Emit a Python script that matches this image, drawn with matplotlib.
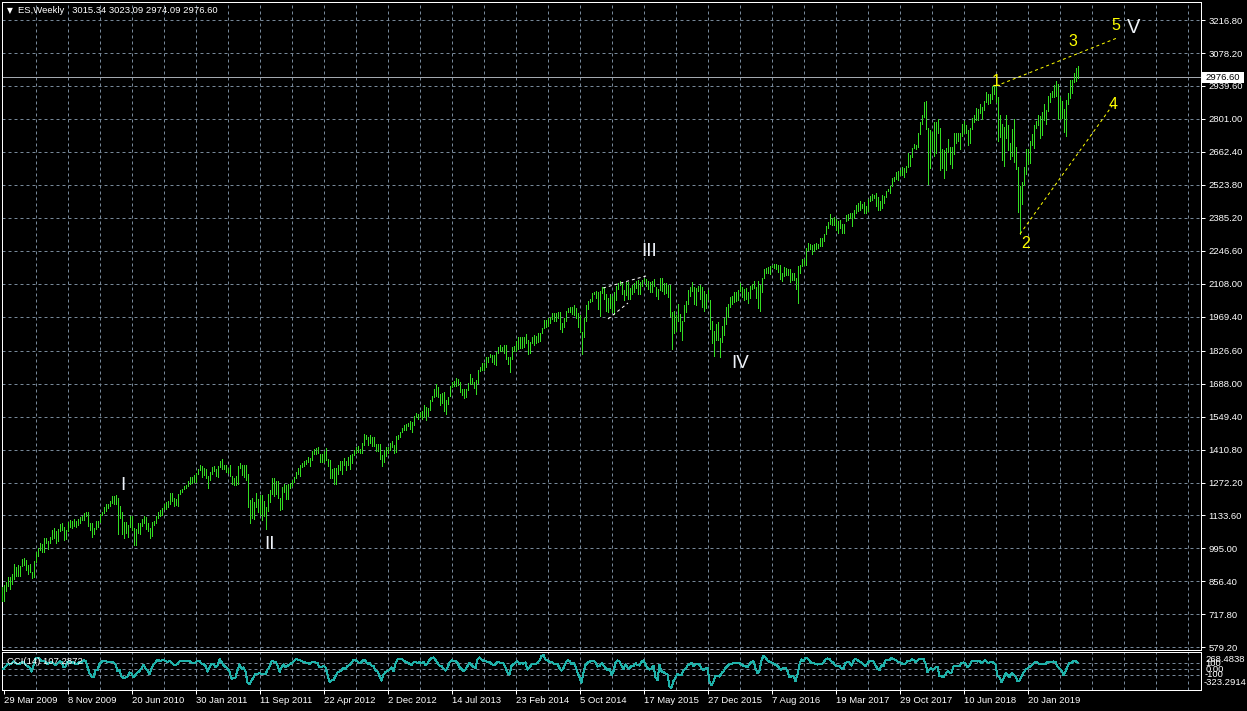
import numpy as np
import matplotlib
matplotlib.use("Agg")
import matplotlib.pyplot as plt
from matplotlib.patches import Rectangle

# ---------------- data (weekly ES bars, week of 29 Mar 2009 .. 14 Jul 2019) ----------------
# 13 warm-up weeks before the first visible bar (only used for CCI(14))
warm_high = [934, 943, 890, 871, 877, 870, 875, 836, 780, 729, 758, 804, 832]
warm_low = [862, 888, 817, 804, 821, 812, 808, 754, 731, 666, 675, 740, 772]
warm_close = [931, 890, 850, 832, 826, 868, 826, 770, 735, 683, 756, 769, 816]

h09 = [842, 856, 875, 875, 888, 930, 915, 924, 920, 951, 956, 945, 925, 931, 898, 943, 980, 996, 1018, 1012,
       1037, 1040, 1028, 1045, 1074, 1080, 1069, 1076, 1097, 1101, 1087, 1071, 1105, 1113, 1112, 1120, 1110, 1117, 1128, 1130]
l09 = [775, 814, 836, 826, 845, 866, 878, 879, 880, 923, 927, 903, 888, 895, 869, 875, 938, 965, 987, 978,
       980, 1016, 991, 1017, 1036, 1041, 1020, 1025, 1068, 1072, 1029, 1033, 1069, 1085, 1080, 1090, 1085, 1095, 1102, 1114]
c09 = [842, 856, 869, 866, 877, 929, 882, 887, 919, 940, 946, 921, 918, 896, 879, 940, 979, 987, 1010, 1004,
       1026, 1029, 1016, 1042, 1068, 1044, 1025, 1071, 1087, 1079, 1036, 1069, 1093, 1091, 1092, 1106, 1106, 1102, 1126, 1115]

h10 = [1145, 1150, 1150, 1103, 1104, 1080, 1112, 1112, 1139, 1150, 1170, 1181, 1182, 1195, 1214, 1217, 1220, 1206, 1173, 1148,
       1105, 1105, 1092, 1131, 1131, 1083, 1078, 1100, 1103, 1120, 1130, 1129, 1100, 1081, 1105, 1110, 1131, 1148, 1157, 1167,
       1184, 1189, 1196, 1227, 1227, 1208, 1205, 1225, 1240, 1247, 1259, 1263]
l10 = [1116, 1131, 1090, 1071, 1045, 1056, 1075, 1086, 1105, 1136, 1146, 1151, 1165, 1175, 1186, 1183, 1181, 1056, 1125, 1056,
       1040, 1060, 1043, 1086, 1071, 1011, 1010, 1061, 1056, 1088, 1100, 1076, 1068, 1040, 1048, 1092, 1103, 1122, 1131, 1135,
       1159, 1159, 1171, 1180, 1194, 1173, 1176, 1174, 1222, 1232, 1243, 1251]
c10 = [1145, 1136, 1092, 1074, 1066, 1075, 1109, 1105, 1139, 1150, 1160, 1167, 1179, 1194, 1192, 1217, 1187, 1111, 1136, 1087,
       1089, 1065, 1092, 1117, 1076, 1022, 1078, 1065, 1102, 1101, 1121, 1079, 1071, 1065, 1105, 1110, 1125, 1148, 1147, 1166,
       1176, 1183, 1183, 1225, 1199, 1199, 1189, 1224, 1240, 1244, 1257, 1258]

h11 = [1278, 1294, 1296, 1302, 1311, 1330, 1344, 1342, 1332, 1330, 1301, 1315, 1338, 1340, 1330, 1340, 1364, 1370, 1346, 1346,
       1335, 1346, 1300, 1292, 1298, 1341, 1356, 1344, 1347, 1345, 1307, 1200, 1208, 1190, 1230, 1204, 1220, 1220, 1195, 1171,
       1224, 1239, 1293, 1292, 1277, 1278, 1208, 1253, 1267, 1260, 1268, 1269]
l11 = [1258, 1265, 1271, 1275, 1276, 1309, 1326, 1294, 1302, 1291, 1249, 1281, 1308, 1320, 1300, 1295, 1336, 1329, 1328, 1318,
       1311, 1298, 1268, 1262, 1262, 1265, 1333, 1303, 1296, 1282, 1168, 1101, 1121, 1120, 1170, 1150, 1136, 1114, 1131, 1075,
       1154, 1191, 1222, 1215, 1226, 1209, 1158, 1162, 1231, 1202, 1202, 1248]
c11 = [1271, 1293, 1283, 1276, 1310, 1329, 1343, 1320, 1321, 1304, 1279, 1313, 1332, 1328, 1320, 1337, 1363, 1340, 1338, 1333,
       1331, 1300, 1271, 1271, 1268, 1340, 1344, 1316, 1345, 1292, 1199, 1179, 1124, 1177, 1174, 1154, 1216, 1136, 1131, 1155,
       1224, 1238, 1285, 1253, 1263, 1216, 1159, 1244, 1255, 1219, 1265, 1258]

h12 = [1283, 1296, 1315, 1333, 1345, 1354, 1362, 1368, 1379, 1374, 1406, 1414, 1419, 1422, 1394, 1392, 1406, 1416, 1372, 1365,
       1329, 1335, 1335, 1345, 1363, 1362, 1375, 1362, 1381, 1390, 1394, 1407, 1420, 1426, 1414, 1439, 1475, 1474, 1463, 1470,
       1465, 1465, 1436, 1434, 1434, 1388, 1409, 1420, 1423, 1438, 1448, 1431, 1467]
l12 = [1259, 1275, 1290, 1306, 1300, 1337, 1340, 1352, 1359, 1340, 1365, 1392, 1391, 1397, 1357, 1359, 1358, 1365, 1343, 1292,
       1291, 1267, 1266, 1306, 1324, 1309, 1348, 1325, 1345, 1329, 1354, 1389, 1398, 1400, 1397, 1396, 1429, 1455, 1430, 1438,
       1425, 1426, 1403, 1403, 1373, 1343, 1359, 1385, 1398, 1411, 1420, 1398, 1402]
c12 = [1278, 1289, 1315, 1316, 1344, 1342, 1361, 1366, 1370, 1371, 1404, 1397, 1408, 1398, 1370, 1378, 1403, 1369, 1353, 1295,
       1318, 1278, 1325, 1343, 1335, 1362, 1355, 1357, 1363, 1386, 1391, 1406, 1419, 1411, 1407, 1438, 1466, 1460, 1441, 1461,
       1428, 1433, 1411, 1414, 1380, 1359, 1409, 1416, 1418, 1413, 1430, 1402, 1466]

h13 = [1474, 1485, 1503, 1514, 1518, 1524, 1530, 1526, 1552, 1563, 1559, 1570, 1573, 1597, 1589, 1585, 1619, 1635, 1667, 1688,
       1674, 1646, 1649, 1654, 1620, 1632, 1680, 1693, 1698, 1710, 1709, 1696, 1664, 1664, 1664, 1689, 1730, 1712, 1696, 1704,
       1745, 1759, 1775, 1774, 1799, 1802, 1813, 1810, 1808, 1819, 1843, 1849]
l13 = [1455, 1463, 1486, 1491, 1495, 1512, 1497, 1485, 1514, 1547, 1538, 1546, 1539, 1549, 1536, 1553, 1577, 1614, 1632, 1635,
       1630, 1598, 1608, 1574, 1560, 1601, 1634, 1675, 1677, 1680, 1684, 1654, 1639, 1627, 1633, 1660, 1688, 1687, 1670, 1646,
       1692, 1741, 1746, 1746, 1760, 1780, 1799, 1779, 1772, 1768, 1818, 1827]
c13 = [1472, 1486, 1503, 1513, 1518, 1520, 1515, 1518, 1551, 1561, 1556, 1569, 1553, 1588, 1555, 1582, 1614, 1633, 1667, 1650,
       1631, 1643, 1627, 1593, 1606, 1632, 1680, 1692, 1692, 1710, 1691, 1655, 1663, 1633, 1655, 1688, 1710, 1692, 1691, 1703,
       1744, 1759, 1762, 1771, 1798, 1804, 1806, 1805, 1775, 1818, 1841, 1831]

h14 = [1843, 1850, 1850, 1798, 1798, 1841, 1847, 1867, 1883, 1883, 1884, 1883, 1897, 1872, 1865, 1884, 1891, 1887, 1902, 1902,
       1924, 1955, 1955, 1963, 1968, 1985, 1983, 1985, 1991, 1991, 1945, 1964, 1993, 2005, 2012, 2009, 2019, 2007, 1985, 1977,
       1906, 1965, 2018, 2034, 2046, 2071, 2075, 2079, 2075, 2077, 2094, 2093]
l14 = [1824, 1815, 1790, 1772, 1738, 1791, 1824, 1826, 1834, 1839, 1839, 1842, 1858, 1814, 1816, 1859, 1851, 1859, 1862, 1868,
       1902, 1921, 1925, 1931, 1944, 1958, 1952, 1952, 1965, 1916, 1905, 1928, 1953, 1988, 1991, 1979, 1978, 1965, 1926, 1906,
       1814, 1886, 1951, 2001, 2031, 2034, 2064, 2049, 2002, 1972, 2069, 2046]
c14 = [1842, 1838, 1790, 1783, 1797, 1838, 1836, 1859, 1878, 1841, 1866, 1857, 1865, 1815, 1864, 1863, 1881, 1878, 1878, 1900,
       1924, 1949, 1937, 1963, 1961, 1985, 1968, 1978, 1978, 1925, 1931, 1955, 1988, 2003, 2007, 1985, 2010, 1982, 1968, 1906,
       1886, 1964, 2018, 2032, 2039, 2063, 2067, 2075, 2002, 2070, 2088, 2058]

h15 = [2064, 2049, 2065, 2057, 2072, 2097, 2111, 2119, 2117, 2083, 2114, 2114, 2089, 2102, 2111, 2120, 2125, 2117, 2124, 2134,
       2127, 2121, 2115, 2120, 2130, 2094, 2085, 2133, 2132, 2111, 2113, 2103, 2102, 1989, 1993, 1976, 2021, 1980, 1952, 2020,
       2034, 2081, 2094, 2116, 2094, 2089, 2097, 2104, 2093, 2077, 2067, 2081]
l15 = [1992, 1988, 2005, 1989, 1981, 2041, 2085, 2103, 2067, 2039, 2061, 2046, 2045, 2064, 2073, 2091, 2067, 2067, 2099, 2120,
       2099, 2085, 2072, 2072, 2097, 2056, 2044, 2080, 2077, 2063, 2069, 2052, 1971, 1833, 1903, 1910, 1953, 1908, 1872, 1951,
       1990, 2022, 2058, 2076, 2022, 2019, 2078, 2043, 2010, 1994, 2005, 2043]
c15 = [2044, 2019, 2051, 1995, 2055, 2096, 2110, 2104, 2071, 2053, 2108, 2061, 2066, 2102, 2081, 2117, 2108, 2116, 2123, 2126,
       2107, 2092, 2094, 2110, 2102, 2077, 2077, 2127, 2080, 2104, 2078, 2092, 1971, 1989, 1921, 1961, 1958, 1931, 1951, 2015,
       2033, 2075, 2079, 2099, 2023, 2089, 2090, 2092, 2012, 2005, 2061, 2044]

h16 = [2038, 1950, 1908, 1940, 1947, 1882, 1930, 1963, 2010, 2022, 2052, 2056, 2075, 2075, 2083, 2112, 2096, 2084, 2092, 2074,
       2099, 2105, 2120, 2095, 2121, 2104, 2131, 2169, 2176, 2178, 2183, 2188, 2193, 2193, 2185, 2187, 2152, 2180, 2175, 2169,
       2169, 2153, 2154, 2133, 2182, 2189, 2214, 2214, 2260, 2278, 2274, 2273]
l16 = [1918, 1857, 1804, 1872, 1872, 1802, 1865, 1891, 1937, 1969, 2011, 2022, 2033, 2034, 2039, 2079, 2053, 2039, 2045, 2026,
       2049, 2088, 2089, 2050, 2004, 1992, 2074, 2131, 2155, 2155, 2148, 2177, 2173, 2169, 2157, 2127, 2119, 2139, 2145, 2143,
       2114, 2124, 2122, 2084, 2028, 2154, 2181, 2186, 2188, 2248, 2254, 2234]
c16 = [1922, 1880, 1907, 1940, 1880, 1865, 1918, 1948, 2000, 2022, 2050, 2036, 2073, 2048, 2081, 2092, 2065, 2057, 2047, 2053,
       2099, 2099, 2096, 2071, 2037, 2103, 2130, 2162, 2175, 2174, 2183, 2184, 2184, 2169, 2180, 2128, 2139, 2165, 2168, 2153,
       2133, 2141, 2126, 2085, 2164, 2182, 2213, 2192, 2259, 2258, 2263, 2239]

h17 = [2277, 2279, 2276, 2301, 2299, 2319, 2351, 2367, 2401, 2386, 2390, 2382, 2370, 2378, 2359, 2361, 2399, 2400, 2404, 2405,
       2418, 2440, 2446, 2454, 2443, 2451, 2434, 2463, 2477, 2484, 2480, 2490, 2474, 2454, 2480, 2475, 2500, 2508, 2520, 2552,
       2557, 2576, 2582, 2588, 2597, 2593, 2605, 2657, 2651, 2680, 2695, 2692]
l17 = [2245, 2254, 2259, 2266, 2267, 2287, 2319, 2341, 2358, 2354, 2356, 2335, 2322, 2344, 2322, 2323, 2370, 2377, 2384, 2353,
       2384, 2404, 2416, 2419, 2428, 2405, 2407, 2415, 2458, 2459, 2467, 2437, 2417, 2417, 2428, 2446, 2474, 2496, 2488, 2520,
       2541, 2547, 2544, 2566, 2566, 2557, 2576, 2598, 2605, 2640, 2677, 2673]
c17 = [2277, 2274, 2271, 2295, 2297, 2316, 2351, 2367, 2383, 2372, 2378, 2344, 2363, 2355, 2329, 2349, 2384, 2399, 2390, 2382,
       2416, 2439, 2432, 2433, 2438, 2423, 2425, 2459, 2473, 2472, 2476, 2441, 2425, 2443, 2476, 2461, 2500, 2502, 2519, 2549,
       2553, 2575, 2581, 2587, 2582, 2579, 2602, 2642, 2652, 2675, 2683, 2674]

h18 = [2743, 2787, 2818, 2873, 2877, 2763, 2755, 2747, 2790, 2787, 2802, 2762, 2675, 2672, 2680, 2718, 2683, 2683, 2742, 2743,
       2742, 2742, 2779, 2791, 2774, 2756, 2764, 2804, 2816, 2848, 2844, 2864, 2853, 2877, 2916, 2907, 2908, 2941, 2939, 2947,
       2895, 2817, 2778, 2766, 2816, 2775, 2699, 2760, 2800, 2685, 2601, 2520]
l18 = [2682, 2737, 2778, 2808, 2758, 2529, 2596, 2675, 2647, 2658, 2741, 2585, 2594, 2553, 2586, 2660, 2612, 2594, 2655, 2701,
       2707, 2676, 2729, 2743, 2742, 2692, 2699, 2759, 2790, 2796, 2795, 2826, 2802, 2837, 2874, 2864, 2867, 2886, 2904, 2874,
       2710, 2724, 2628, 2603, 2722, 2671, 2631, 2645, 2621, 2590, 2408, 2317]
c18 = [2743, 2786, 2810, 2873, 2762, 2620, 2732, 2747, 2691, 2786, 2752, 2588, 2641, 2604, 2656, 2670, 2670, 2663, 2728, 2713,
       2721, 2735, 2779, 2780, 2755, 2718, 2760, 2801, 2802, 2819, 2840, 2833, 2850, 2874, 2902, 2872, 2905, 2930, 2914, 2886,
       2767, 2768, 2658, 2723, 2781, 2736, 2633, 2760, 2633, 2600, 2417, 2486]

h19 = [2538, 2597, 2675, 2674, 2710, 2739, 2776, 2793, 2818, 2815, 2830, 2862, 2838, 2897, 2912, 2917, 2942, 2959, 2947, 2893,
       2876, 2841, 2880, 2910, 2965, 2964, 2996, 3017, 3023.09]
l19 = [2443, 2524, 2570, 2613, 2614, 2690, 2680, 2763, 2774, 2722, 2735, 2795, 2780, 2834, 2873, 2895, 2895, 2899, 2800, 2801,
       2805, 2745, 2728, 2862, 2888, 2912, 2955, 2960, 2974.09]
c19 = [2531, 2596, 2670, 2665, 2706, 2707, 2775, 2793, 2803, 2743, 2822, 2800, 2834, 2895, 2907, 2905, 2940, 2946, 2881, 2859,
       2826, 2752, 2873, 2887, 2950, 2942, 2990, 3014, 2976.60]

# tick labels / annotations
date_labels = ["29 Mar 2009", "8 Nov 2009", "20 Jun 2010", "30 Jan 2011", "11 Sep 2011", "22 Apr 2012",
               "2 Dec 2012", "14 Jul 2013", "23 Feb 2014", "5 Oct 2014", "17 May 2015", "27 Dec 2015",
               "7 Aug 2016", "19 Mar 2017", "29 Oct 2017", "10 Jun 2018", "20 Jan 2019"]
price_ticks = [3216.80, 3078.20, 2939.60, 2801.00, 2662.40, 2523.80, 2385.20, 2246.60, 2108.00, 1969.40,
               1826.60, 1688.00, 1549.40, 1410.80, 1272.20, 1133.60, 995.00, 856.40, 717.80, 579.20]
cci_levels = [100, 0, -100]
cci_axis_labels = ["268.4838", "100", "0.00", "-100", "-323.2914"]
last_price = 2976.60
title_text = "ES,Weekly   3015.34 3023.09 2974.09 2976.60"
cci_title = "CCI(14) 107.2872"

wave_labels = ["I", "II", "III", "IV", "V"]
wave_x = [59.75, 132.75, 323.0, 368.25, 565.0]
wave_y = [1257.6, 1013.7, 2241.6, 1774.8, 3183.5]
sub_labels = ["1", "2", "3", "4", "5"]
sub_x = [496.25, 511.0, 534.75, 554.6, 556.0]
sub_y = [2960.6, 2277.3, 3128.8, 2863.9, 3194.0]
# trend lines (x in bar index, y in price)
yellow_lines = [((496.25, 2939.6), (556.75, 3141.4)), ((508.25, 2317.3), (554.25, 2855.5))]
white_lines = [((299.75, 2090.2), (321.25, 2140.7)), ((302.25, 1959.8), (312.25, 2027.1))]

# ---------------- assemble ----------------
highs = np.array(warm_high + h09 + h10 + h11 + h12 + h13 + h14 + h15 + h16 + h17 + h18 + h19, float)
lows = np.array(warm_low + l09 + l10 + l11 + l12 + l13 + l14 + l15 + l16 + l17 + l18 + l19, float)
closes = np.array(warm_close + c09 + c10 + c11 + c12 + c13 + c14 + c15 + c16 + c17 + c18 + c19, float)
nwarm = len(warm_high)
idx = np.arange(len(highs)) - nwarm

tp = (highs + lows + closes) / 3.0
n = 14
cci = np.full(len(tp), np.nan)
for k in range(n - 1, len(tp)):
    w = tp[k - n + 1:k + 1]
    m = w.mean()
    md = np.abs(w - m).mean()
    cci[k] = (tp[k] - m) / (0.015 * md)

# ---------------- figure ----------------
W, H = 1247, 711
plt.rcParams['font.family'] = ['Liberation Sans', 'DejaVu Sans']
FS = 6.8
fig = plt.figure(figsize=(W / 100, H / 100), dpi=100, facecolor='black')

def fx(px):
    return px / W

def fy(py):
    return 1 - py / H

def price_at(py):
    return 2939.6 - (py - 86) * 4.205

GRID = '#778899'
PX = 0.72  # one pixel in points
BAR = '#33dd22'

# main panel: pixels x 2..1201, y 2..650
ax = fig.add_axes([fx(2), fy(650), 1199 / W, 648 / H], facecolor='black')
ax.set_xlim(-0.75, -0.75 + 1199 / 2)
ax.set_ylim(price_at(650), price_at(2))

vgrid = list(range(16, 600, 16))
for xv in vgrid:
    ax.axvline(xv, color=GRID, lw=PX, dashes=(3, 3), zorder=1)
for yv in price_ticks:
    ax.axhline(yv, color=GRID, lw=PX, dashes=(3, 3), zorder=1)

ax.vlines(idx, lows, highs, colors=BAR, lw=PX, antialiased=False, zorder=3)

ax.axhline(last_price, color='#a4a9b0', lw=PX, zorder=2)

for (p0, p1) in yellow_lines:
    ax.plot([p0[0], p1[0]], [p0[1], p1[1]], color='#ffff00', lw=PX, dashes=(3, 3), zorder=4)
for (p0, p1) in white_lines:
    ax.plot([p0[0], p1[0]], [p0[1], p1[1]], color='white', lw=PX, dashes=(3, 3), zorder=4)

for t, xv, yv in zip(wave_labels, wave_x, wave_y):
    ax.text(xv, yv, t, color='#eef2f8', fontsize=13.5 if t != 'V' else 14.5, ha='center', va='center', zorder=5)
for t, xv, yv in zip(sub_labels, sub_x, sub_y):
    ax.text(xv, yv, t, color='#ffff00', fontsize=11.5, ha='center', va='center', zorder=5)

ax.yaxis.tick_right()
ax.set_yticks(price_ticks)
ax.set_yticklabels([f"{v:.2f}" for v in price_ticks])
ax.tick_params(axis='y', colors='white', labelcolor='white', labelsize=FS, length=3, width=PX, pad=2.5)
ax.set_xticks([])
for s in ax.spines.values():
    s.set_color('white')
    s.set_linewidth(PX)

# price tag for last price
ytag = 86 - (last_price - 2939.6) / 4.205
fig.patches.append(Rectangle((fx(1202), fy(ytag + 5.5)), 42 / W, 11 / H,
                             transform=fig.transFigure, facecolor='white', edgecolor='none', zorder=10))
fig.text(fx(1205), fy(ytag), f"{last_price:.2f}", color='black', fontsize=FS, va='center', ha='left', zorder=11)

# title
fig.text(fx(10), fy(10.5), "\u25BC", color='white', fontsize=5.5, ha='center', va='center',
         family=['DejaVu Sans'])
fig.text(fx(18), fy(10.5), title_text, color='white', fontsize=FS, ha='left', va='center')

# CCI panel: pixels y 652..690
cax = fig.add_axes([fx(2), fy(690), 1199 / W, 38 / H], facecolor='black')
cax.set_xlim(-0.75, -0.75 + 1199 / 2)
u = 200 / 12.1
cax.set_ylim(-100 - 14.6 * u, 100 + 11.3 * u)
for xv in vgrid:
    cax.axvline(xv, color=GRID, lw=PX, dashes=(3, 3), zorder=1)
for lv in cci_levels:
    cax.axhline(lv, color=GRID, lw=PX, dashes=(3, 3), zorder=1)
cax.plot(idx, cci, color='#20b2aa', lw=PX, antialiased=False, zorder=3)
cax.set_yticks([])
date_pos = list(range(0, 32 * len(date_labels), 32))
cax.set_xticks(date_pos)
cax.set_xticklabels(date_labels, ha='left')
cax.tick_params(axis='x', colors='white', labelcolor='white', labelsize=FS, length=3, width=PX, pad=1.5)
for s in cax.spines.values():
    s.set_color('white')
    s.set_linewidth(PX)
cax.text(0.0, 1.0, "", transform=cax.transAxes)
fig.text(fx(7), fy(661), cci_title, color='white', fontsize=FS, ha='left', va='center', zorder=6)

cci_label_y = [659, 663.3, 669.3, 674.7, 682.7]
cci_label_x = [1205.5, 1205.5, 1205.5, 1205, 1204]
for t, xx, yy in zip(cci_axis_labels, cci_label_x, cci_label_y):
    fig.text(fx(xx), fy(yy), t, color='white', fontsize=FS, ha='left', va='center')

fig.savefig("out.png", dpi=100, facecolor='black')
